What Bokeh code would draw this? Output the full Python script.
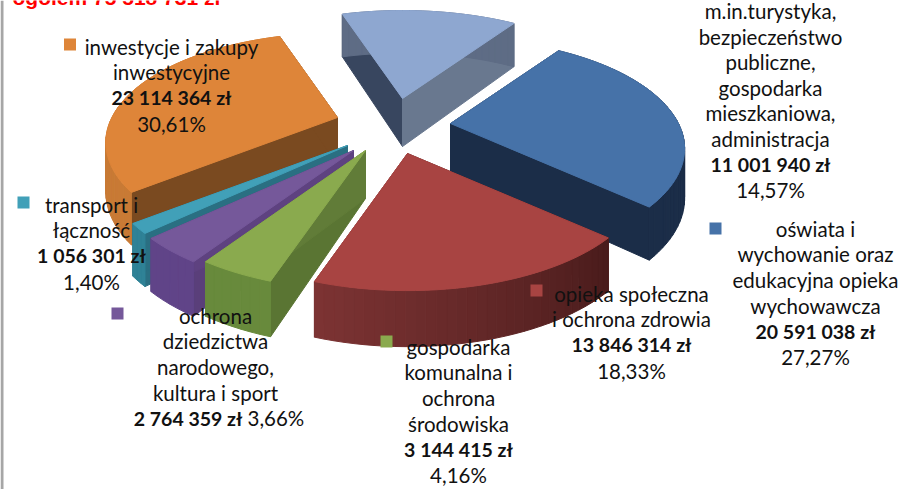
from math import cos, sin, radians
from bokeh.plotting import figure
from bokeh.models import Range1d
from bokeh.core.properties import value
from bokeh.embed import file_html
from bokeh.resources import INLINE

# ---- data (clockwise from the blue slice) ----
categories = [
    ["oświata i", "wychowanie oraz", "edukacyjna opieka", "wychowawcza"],
    ["opieka społeczna", "i ochrona zdrowia"],
    ["gospodarka", "komunalna i", "ochrona", "środowiska"],
    ["ochrona", "dziedzictwa", "narodowego,", "kultura i sport"],
    ["transport i", "łączność"],
    ["inwestycje i zakupy", "inwestycyjne"],
    ["m.in.turystyka,", "bezpieczeństwo", "publiczne,", "gospodarka", "mieszkaniowa,", "administracja"],
]
amounts = [20591038, 13846314, 3144415, 2764359, 1056301, 23114364, 11001940]
percents = ["27,27%", "18,33%", "4,16%", "3,66%", "1,40%", "30,61%", "14,57%"]
title = "ogółem 75 518 731 zł"

# ---- style ----
W, H = 900, 489
top_col = ["#4672A8", "#A84442", "#8AAA4E", "#75589A", "#41A0B8", "#DE8539", "#8EA7D0"]
face_a = ["#1B2D48", "#5A2424", "#5A7533", "#5A3F7A", "#2A6F82", "#7A4A20", "#38465F"]
face_b = ["#1B2D48", "#7A3232", "#617C38", "#5E4280", "#2A6F82", "#7A4A20", "#69788F"]
arc_a = ["#1B2D48", "#4A1C1C", "#688A3C", "#604488", "#2F8296", "#C87A35", "#5E6C85"]
arc_b = ["#1B2D48", "#7C3333", "#688A3C", "#604488", "#2F8296", "#C87A35", "#5E6C85"]
explode = [(50, -4), (7, 26), (-35, 23), (-47, 23), (-53, 18), (-63, -10), (2, -29)]
rim_scale = [0.97, 0.98, 1.0, 1.0, 1.0, 0.96, 1.0]
draw_order = [5, 4, 3, 2, 6, 0, 1]
center = (400, 127)
A, B, K = 235.0, 108.0, 0.228
depth0 = 48.0
depth_pow = 0.6
start_deg = -55.7
label_font = "Lato"
fs = "20.5px"
fs_bold = "19.5px"
line_h = 25.7
label_pos = [(815, 228), (631, 293), (458, 346), (215, 315), (91, 204), (171, 46), (770, 10.5)]
line_hs = [line_h, line_h, line_h, line_h, line_h, line_h, 25.5]
key_pos = [(715, 228), (536, 290), (386, 341), (117, 313), (23, 202), (69.5, 44), None]


def proj(u, v):
    s = 1 / (1 - K * v)
    return A * u * s, B * v * s, s


p = figure(width=W, height=H, x_range=Range1d(0, W), y_range=Range1d(H, 0),
           output_backend="svg", toolbar_location=None, min_border=0,
           styles={"position": "absolute", "left": "0", "top": "0"})
p.xaxis.visible = False
p.yaxis.visible = False
p.xgrid.visible = False
p.ygrid.visible = False
p.outline_line_color = None
p.background_fill_color = "white"


def mix(c1, c2, t):
    a = [int(c1[i:i + 2], 16) for i in (1, 3, 5)]
    b = [int(c2[i:i + 2], 16) for i in (1, 3, 5)]
    return "#%02x%02x%02x" % tuple(round(a[i] + (b[i] - a[i]) * t) for i in range(3))


# ---- pie ----
total = sum(amounts)
spans = []
ang = start_deg
for a in amounts:
    d = 360 * a / total
    spans.append((ang, ang + d))
    ang += d

for i in draw_order:
    a0, a1 = spans[i]
    ox, oy = center[0] + explode[i][0], center[1] + explode[i][1]
    n = max(3, int((a1 - a0) / 2))
    rim = []
    for k in range(n + 1):
        t = radians(a0 + (a1 - a0) * k / n)
        x, y, s = proj(cos(t), sin(t))
        rim.append((ox + x * rim_scale[i], oy + y * rim_scale[i], depth0 * s ** depth_pow))
    # radial faces
    for (rx, ry, rd), col in ((rim[0], face_a[i]), (rim[-1], face_b[i])):
        p.patch([ox, rx, rx, ox], [oy, ry, ry + rd, oy + depth0],
                fill_color=col, line_color=col, line_width=1)
    # outer wall
    for k in range(n):
        x0, y0, d0 = rim[k]
        x1, y1, d1 = rim[k + 1]
        col = mix(arc_a[i], arc_b[i], k / max(1, n - 1))
        p.patch([x0, x1, x1, x0], [y0, y1, y1 + d1, y0 + d0],
                fill_color=col, line_color=col, line_width=1)
    # top
    p.patch([ox] + [r[0] for r in rim], [oy] + [r[1] for r in rim],
            fill_color=top_col[i], line_color=top_col[i], line_width=1)


# ---- text ----
def put(x, y, txt, bold=False, color="#111111", size=fs, align="center", font=label_font):
    p.text([x], [y], text=[txt], text_font=value(font),
           text_font_size=value(size), text_color=color,
           text_font_style="bold" if bold else "normal",
           text_align=align, text_baseline="middle")


def money(v):
    return f"{v:,}".replace(",", " ") + " zł"


for i, lines in enumerate(categories):
    lx, ly = label_pos[i]
    y = ly
    for ln in lines:
        put(lx, y, ln)
        y += line_hs[i]
    if i == 3:
        put(242, y, money(amounts[i]), bold=True, align="right", size=fs_bold)
        put(247, y, percents[i], align="left")
    else:
        put(lx, y, money(amounts[i]), bold=True, size=fs_bold)
        put(lx, y + line_hs[i], percents[i])
    if key_pos[i]:
        kx, ky = key_pos[i]
        p.scatter([kx], [ky], marker="square", size=12, fill_color=top_col[i], line_color=None)

# cropped red title and left frame bar
put(12, -3, title, bold=True, color="#FF0000", size="21px", align="left", font="Liberation Sans")
p.line([1.5, 1.5], [0, H], line_color="#A6A6A6", line_width=3)

open("out.html", "w").write(file_html(p, INLINE))
